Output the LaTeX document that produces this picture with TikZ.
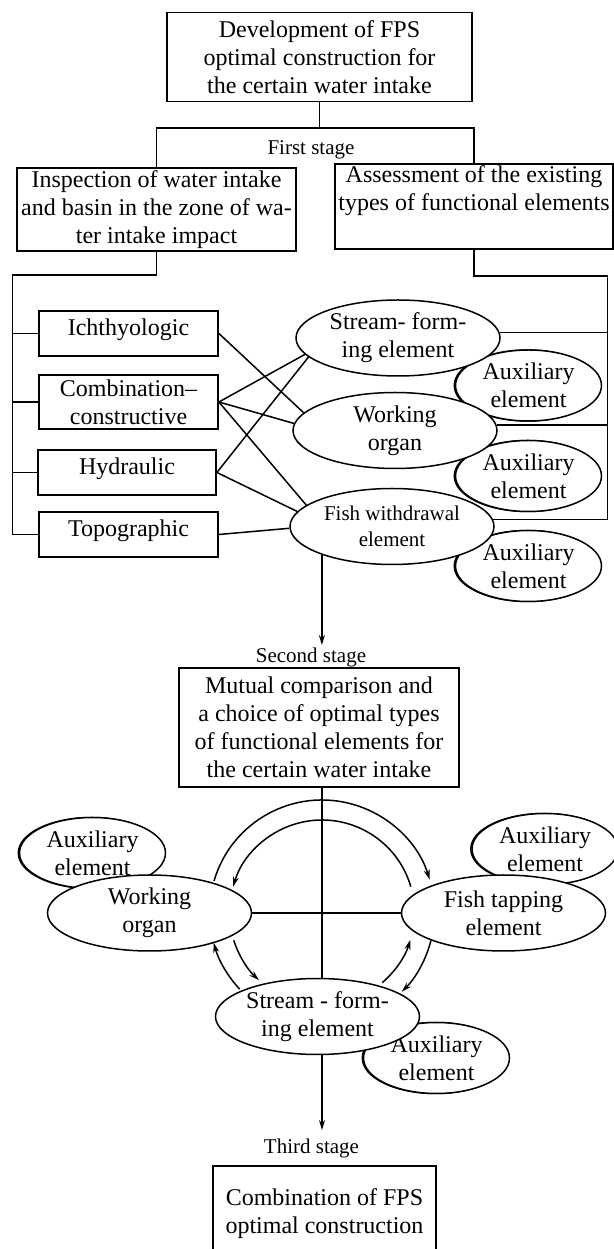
\documentclass[tikz,border=0pt]{standalone}
\usepackage{fontspec}
\setmainfont{Liberation Serif}
\usetikzlibrary{arrows.meta,shapes.geometric,shadows}

\tikzset{
  stagebox/.style={draw, line width=0.9pt, fill=white, inner sep=1pt, align=center},
  kindbox/.style={stagebox, minimum width=89.5pt, minimum height=22.5pt,
    text height=8.5pt, text depth=6.5pt},
  unit/.style={ellipse, draw, line width=0.75pt, fill=white, inner sep=0pt, align=center,
    minimum width=102pt, minimum height=38pt},
  auxunit/.style={unit, minimum width=73pt, minimum height=35.5pt,
    copy shadow={shadow xshift=-0.6pt, shadow yshift=0pt}},
  stagelabel/.style={font=\fontsize{10.5}{12}\selectfont, inner sep=1pt},
  link/.style={line width=0.75pt},
  flow/.style={line width=0.75pt, -{Stealth[length=5pt,width=3pt]}}
}

\begin{document}
\begin{tikzpicture}[x=0.5pt, y=0.5pt, font=\fontsize{12}{14}\selectfont]

% Page
\useasboundingbox (0,0) rectangle (614,1249);
\fill[white] (0,0) rectangle (614,1249);

% Task and the two first-stage branches
\node[stagebox, minimum width=152.5pt, minimum height=44.5pt] (task) at (319.5,1192)
  {Development of FPS\\optimal construction for\\the certain water intake};
\node[stagebox, minimum width=139.5pt, minimum height=41.5pt] (inspect) at (156.5,1039.5)
  {Inspection of water intake\\and basin in the zone of wa-\\ter intake impact};
\node[stagebox, minimum width=139pt, minimum height=41.5pt] (assess) at (474,1042.5)
  {Assessment of the existing\\types of functional elements\\\strut};
\node[stagelabel] (stage1) at (311,1099) {First stage};
\coordinate (fork) at (319.5,1121);
\draw[link] (task) -- (fork);
\draw[link] (inspect.north) |- (fork) -| (assess.north);

% Kinds of inspection
\node[kindbox] (ichth) at (128.5,915.5) {Ichthyologic};
\node[stagebox, minimum width=89.5pt, minimum height=27pt] (comb) at (128.5,847)
  {Combination\textendash\\constructive};
\node[kindbox, minimum width=89pt] (hydr) at (127,776.5) {Hydraulic};
\node[kindbox] (topo) at (128.5,714.5) {Topographic};

% Existing functional elements, auxiliary ones behind
\node[auxunit] (aux1) at (528.5,863.5) {Auxiliary\\element};
\node[auxunit] (aux2) at (528.5,773) {Auxiliary\\element};
\node[auxunit] (aux3) at (528.5,683) {Auxiliary\\element};
\node[unit] (stream) at (398,911) {Stream- form-\\ing element};
\node[unit] (work) at (395,818.5) {Working\\organ};
\node[unit, font=\fontsize{10.5}{13}\selectfont] (fishw) at (392,722.5) {Fish withdrawal\\element};

% Rails
\coordinate (lrail) at (12.5,974);
\draw[link] (inspect.south) |- (lrail) |- (topo.west);
\foreach \n in {ichth,comb,hydr}
  \draw[link] (lrail |- \n.west) -- (\n.west);
\coordinate (rrail) at (607.5,973);
\draw[link] (assess.south) |- (rrail) |- (fishw.4);
\draw[link] (stream.3) -- (stream.3 -| rrail);
\draw[link] (work.3) -- (work.3 -| rrail);

% Which inspection feeds which element
\draw[link] (ichth.east) -- (work.169);
\foreach \t in {stream.190,work.176,fishw.166}
  \draw[link] (comb.east) -- (\t);
\draw[link] (hydr.east) -- (stream.192);
\draw[link] (hydr.east) -- (fishw.171);
\draw[link] (topo.east) -- (fishw.181);

% Second stage
\node[stagelabel] (stage2) at (311,592) {Second stage};
\draw[flow] (fishw.202) -- (fishw.202 |- stage2.north);
\node[stagebox, minimum width=140pt, minimum height=59.5pt] (choice) at (319,521.5)
  {Mutual comparison and\\a choice of optimal types\\of functional elements for\\the certain water intake};

\coordinate (hub) at (322,336.5);
\node[auxunit] (aux4) at (92.5,396) {Auxiliary\\element};
\node[auxunit] (aux5) at (545,400) {Auxiliary\\element};
\node[auxunit] (aux6) at (436.5,191) {Auxiliary\\element};
\node[unit] (work2) at (149.5,336) {Working\\organ};
\node[unit] (fisht) at (503.5,336) {Fish tapping\\element};
\node[unit] (stream2) at (317.5,232.5) {Stream - form-\\ing element};
\draw[link] (choice.south -| hub) -- (stream2.north -| hub);
\draw[link] (work2) -- (fisht);

% Mutual arcs round the hub (radius/start/end)
\foreach \r/\a/\b in {112.5/163.7/17, 92.5/16.2/163.8, 112.5/223/195.6,
                      92.5/197.5/227, 92.5/-49.3/-17.2, 112.5/-14.4/-44.8}
  \draw[flow] ([shift={(\a:\r)}]hub) arc[start angle=\a, end angle=\b, radius=\r];

% Third stage
\node[stagelabel] (stage3) at (311.5,101) {Third stage};
\draw[flow, shorten >=3pt] (stream2.south -| hub) -- (hub |- stage3.north);
\node[stagebox, minimum width=111.5pt, minimum height=48pt] (final) at (324.5,35)
  {Combination of FPS\\optimal construction};

\end{tikzpicture}
\end{document}
